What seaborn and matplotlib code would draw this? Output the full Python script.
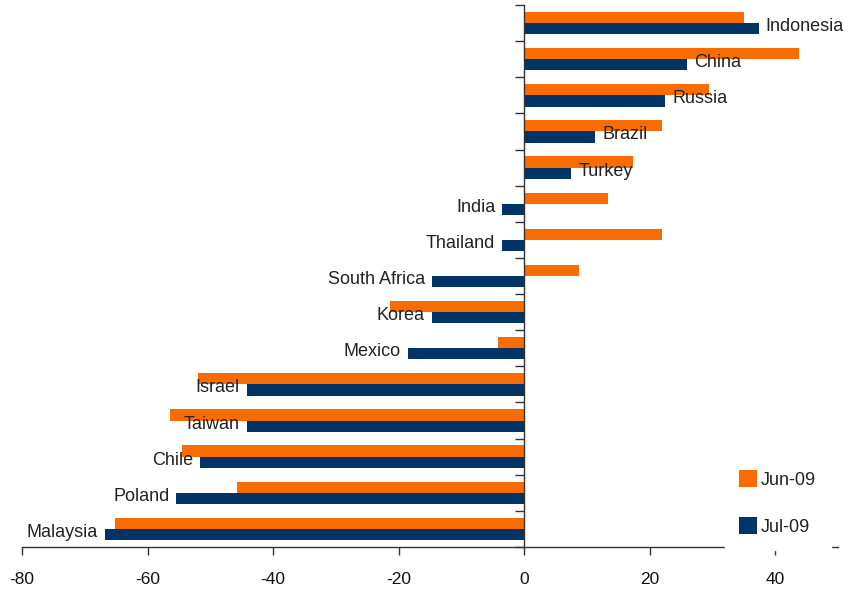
import matplotlib
matplotlib.use("Agg")
import matplotlib.pyplot as plt
import seaborn as sns
import pandas as pd
import numpy as np

countries = ["Indonesia", "China", "Russia", "Brazil", "Turkey", "India", "Thailand",
             "South Africa", "Korea", "Mexico", "Israel", "Taiwan", "Chile", "Poland", "Malaysia"]
jun_09 = [35.1, 43.8, 29.4, 21.9, 17.4, 13.3, 21.9, 8.8, -21.4, -4.2, -51.9, -56.5, -54.5, -45.8, -65.2]
jul_09 = [37.4, 26.0, 22.5, 11.3, 7.5, -3.5, -3.5, -14.7, -14.7, -18.5, -44.2, -44.2, -51.6, -55.4, -66.8]
series_names = ["Jun-09", "Jul-09"]
x_ticks = [-80, -60, -40, -20, 0, 20, 40]

sns.set_style("white")
FONT = ["Liberation Sans", "DejaVu Sans"]
plt.rcParams["font.family"] = FONT

df = pd.DataFrame({
    "country": countries * 2,
    "value": jun_09 + jul_09,
    "series": [series_names[0]] * len(countries) + [series_names[1]] * len(countries),
})

W, H = 861, 596
fig = plt.figure(figsize=(W / 100, H / 100), dpi=100)
ax = fig.add_axes([22 / W, (H - 547) / H, (838 - 22) / W, (547 - 5) / H])

sns.barplot(data=df, y="country", x="value", hue="series", order=countries,
            hue_order=series_names, palette=["#F96D00", "#003366"], orient="h",
            width=0.62, saturation=1, ax=ax, legend=True, linewidth=0, edgecolor="none")

ax.set_xlim(-80, 50)
ax.set_ylim(len(countries) - 0.5, -0.5)
ax.set_xlabel("")
ax.set_ylabel("")

# spines
for s in ["top", "right"]:
    ax.spines[s].set_visible(False)
ax.spines["left"].set_position(("data", 0))
for s in ["left", "bottom"]:
    ax.spines[s].set_color("#333333")
    ax.spines[s].set_linewidth(1.0)

ax.set_yticks(np.arange(-0.5, len(countries), 1.0))
ax.set_yticklabels([])
ax.tick_params(axis="y", direction="out", length=6.5, width=1.0, color="#333333", left=True)
ax.set_xticks(x_ticks)
ax.set_xticklabels([str(t) for t in x_ticks])
ax.tick_params(axis="x", direction="out", length=6, width=1.0, color="#333333", bottom=True,
               pad=12, labelsize=12.5, labelcolor="#111111")
for lab in ax.get_xticklabels():
    lab.set_family(FONT)

# country labels at the end of the Jul-09 bar
for i, (name, v) in enumerate(zip(countries, jul_09)):
    if v >= 0:
        ax.annotate(name, xy=(v, i), xytext=(5, -2.5), textcoords="offset points",
                    ha="left", va="center", fontsize=13, color="#222222", family=FONT, zorder=6)
    else:
        ax.annotate(name, xy=(v, i), xytext=(-5, -2.5), textcoords="offset points",
                    ha="right", va="center", fontsize=13, color="#222222", family=FONT, zorder=6)

leg = ax.legend(loc="center left", bbox_to_anchor=(725 / W, (H - 503) / H),
                bbox_transform=fig.transFigure, frameon=True, framealpha=1,
                facecolor="white", edgecolor="white", fontsize=13, borderpad=0.8,
                handlelength=0.95, handleheight=1.05, handletextpad=0.25, labelspacing=1.6,
                borderaxespad=0)
leg.set_zorder(10)
for t in leg.get_texts():
    t.set_color("#222222")
    t.set_family(FONT)

fig.savefig("out.png", dpi=100)
